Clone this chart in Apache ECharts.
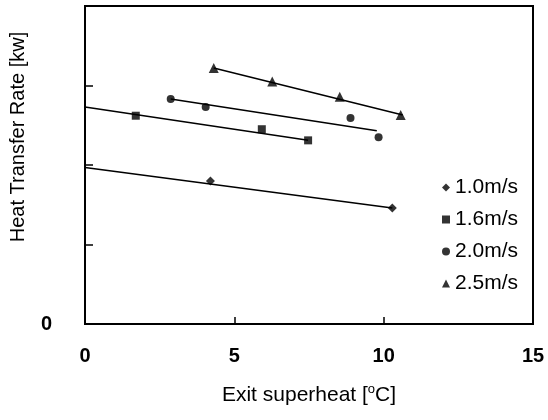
<!DOCTYPE html>
<html>
<head>
<meta charset="utf-8">
<script src="https://cdn.jsdelivr.net/npm/echarts@6/dist/echarts.min.js"></script>
<style>
  html, body { margin: 0; padding: 0; background: #fff; }
  #main { width: 548px; height: 420px; }
</style>
</head>
<body>
<div id="main"></div>
<script>
// measured points (x = exit superheat, y = heat transfer rate, axis units)
var names = ['1.0m/s', '1.6m/s', '2.0m/s', '2.5m/s'];
var symbols = ['diamond', 'rect', 'circle', 'triangle'];

var pts10 = [[4.20, 1.80], [10.29, 1.46]];
var pts16 = [[1.70, 2.62], [5.92, 2.45], [7.47, 2.31]];
var pts20 = [[2.87, 2.83], [4.04, 2.73], [8.89, 2.59], [9.83, 2.35]];
var pts25 = [[4.31, 3.22], [6.27, 3.05], [8.53, 2.86], [10.57, 2.63]];

// trend line end points
var fit10 = [[0, 1.97], [10.29, 1.46]];
var fit16 = [[0, 2.73], [7.47, 2.31]];
var fit20 = [[2.87, 2.83], [9.77, 2.43]];
var fit25 = [[4.31, 3.22], [10.64, 2.63]];

var xTicks = [0, 5, 10, 15];

var allPts = [pts10, pts16, pts20, pts25];
var allFits = [fit10, fit16, fit20, fit25];
var sizes = [9, 8, 8, 10];

var series = [];
allFits.forEach(function (d, i) {
    series.push({
        name: 'fit' + i,
        type: 'line',
        data: d,
        symbol: 'none',
        lineStyle: { color: '#000', width: 1.5 },
        silent: true,
        z: 2
    });
});
allPts.forEach(function (d, i) {
    series.push({
        name: names[i],
        type: 'scatter',
        data: d,
        symbol: symbols[i],
        symbolSize: sizes[i],
        itemStyle: { color: '#000' },
        z: 3
    });
});

var chart = echarts.init(document.getElementById('main'));
chart.setOption({
    animation: false,
    backgroundColor: '#fff',
    textStyle: { fontFamily: 'Liberation Sans, Arial, sans-serif', color: '#000' },
    grid: { left: 85, right: 15, top: 6, bottom: 96, show: true, borderColor: '#000', borderWidth: 2 },
    legend: {
        data: names.map(function (n, i) { return { name: n, icon: symbols[i] }; }),
        orient: 'vertical',
        left: 437,
        top: 172,
        itemWidth: 8,
        itemHeight: 8,
        itemGap: 11,
        textStyle: { fontSize: 21, lineHeight: 21, color: '#000', fontFamily: 'Liberation Sans, Arial, sans-serif' }
    },
    xAxis: {
        type: 'value',
        min: 0,
        max: 15,
        interval: 5,
        name: 'Exit superheat [{sup|o}C]',
        nameLocation: 'middle',
        nameGap: 59,
        nameTextStyle: {
            fontSize: 21,
            color: '#000',
            lineHeight: 24,
            rich: { sup: { fontSize: 13, verticalAlign: 'top', lineHeight: 24, color: '#000' } }
        },
        axisLine: { lineStyle: { color: '#000', width: 2 } },
        axisTick: { inside: true, length: 7, lineStyle: { color: '#000', width: 1.5 } },
        axisLabel: {
            margin: 22,
            fontSize: 20,
            fontWeight: 'bold',
            color: '#000',
            formatter: function (v) { return xTicks.indexOf(v) >= 0 ? String(v) : ''; }
        },
        splitLine: { show: false }
    },
    yAxis: {
        type: 'value',
        min: 0,
        max: 4,
        interval: 1,
        axisLine: { show: true, lineStyle: { color: '#000', width: 2 } },
        axisTick: { show: true, inside: true, length: 8, lineStyle: { color: '#000', width: 1.5 } },
        axisLabel: {
            margin: 33,
            fontSize: 20,
            fontWeight: 'bold',
            color: '#000',
            formatter: function (v) { return v === 0 ? '0' : ''; }
        },
        splitLine: { show: false }
    },
    graphic: [{
        type: 'text',
        x: 18,
        y: 137,
        rotation: Math.PI / 2,
        style: {
            text: 'Heat Transfer Rate [kw]',
            fontSize: 20,
            fontFamily: 'Liberation Sans, Arial, sans-serif',
            fill: '#000',
            align: 'center',
            verticalAlign: 'middle'
        }
    }],
    series: series
});
</script>
</body>
</html>
